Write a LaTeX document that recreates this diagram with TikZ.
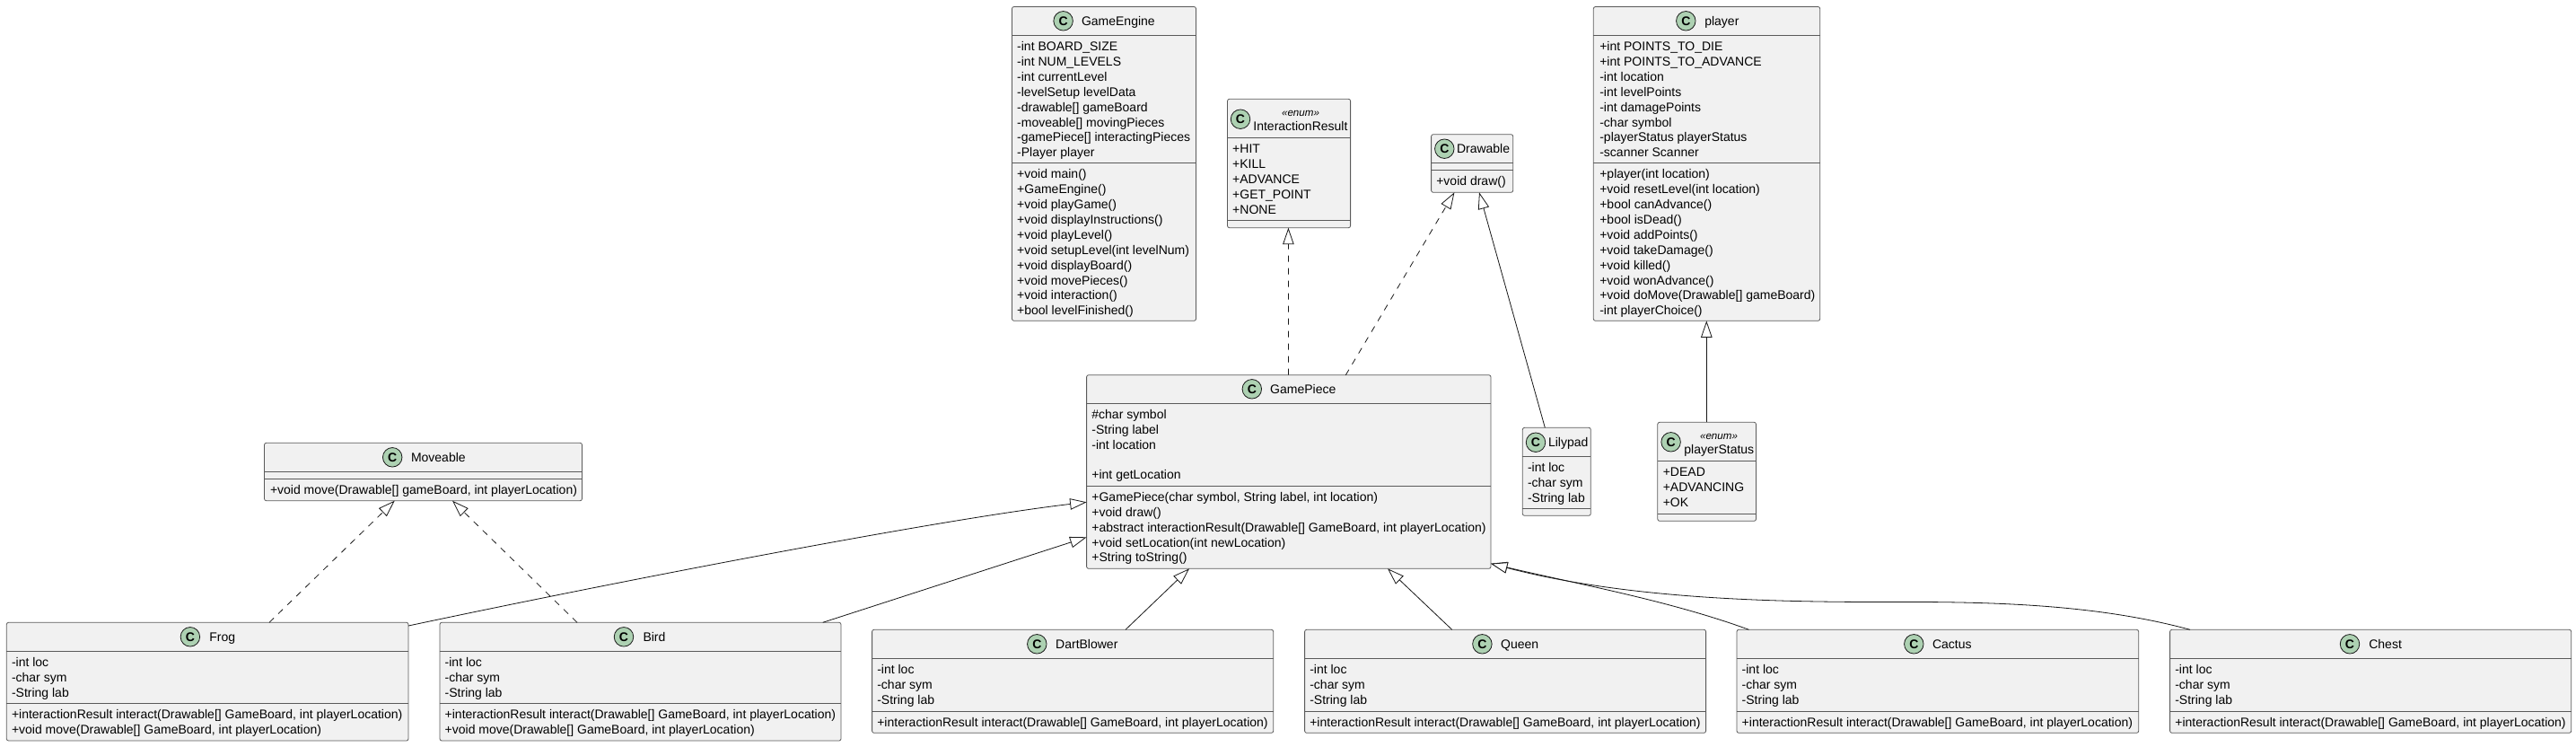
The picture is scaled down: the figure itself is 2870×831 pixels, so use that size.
\documentclass[tikz,border=0pt]{standalone}
\usepackage{fontspec}
\setmainfont{Liberation Sans}
\usetikzlibrary{arrows.meta}
\definecolor{boxfill}{HTML}{F1F1F1}
\definecolor{boxline}{HTML}{5A5A5A}
\definecolor{spotfill}{HTML}{ADD1B2}
\definecolor{inkline}{HTML}{181818}
\tikzset{
  x=1pt,y=-1pt,
  umlshape/.style={draw=boxline,fill=boxfill,line width=0.8pt,rounded corners=2.2pt,inner sep=0pt,outer sep=0pt,anchor=north west},
  sepline/.style={draw=boxline,line width=0.8pt},
  rowtext/.style={inner sep=0pt,outer sep=0pt,anchor=base west,text=black,font=\fontsize{14}{17}\selectfont},
  titletext/.style={inner sep=0pt,outer sep=0pt,anchor=base west,text=black,font=\fontsize{14}{17}\selectfont},
  stereotext/.style={inner sep=0pt,outer sep=0pt,anchor=base,text=black,font=\fontsize{11.6}{14}\itshape\selectfont},
  spotmark/.style={circle,draw=inkline,fill=spotfill,line width=0.8pt,minimum size=21.5pt,inner sep=0pt,outer sep=0pt,font=\fontsize{14}{14}\bfseries\selectfont},
  realize/.style={draw=inkline,line width=0.8pt,dash pattern=on 7pt off 7pt,-{Triangle[length=18.5pt,width=12.5pt,fill=white,line width=0.8pt]}},
  inherit/.style={draw=inkline,line width=0.8pt,-{Triangle[length=18.5pt,width=12.5pt,fill=white,line width=0.8pt]}},
}
\newcommand\umlbox[7]{%
  \node[umlshape,minimum width={(#4-#2)*1pt},minimum height={(#5-#3)*1pt}] (#1) at (#2,#3) {};
  \draw[sepline] (#2,#6) -- (#4,#6);
  \draw[sepline] (#2,#7) -- (#4,#7);
}
\newcommand\umlhead[5]{%
  \node[spotmark] (#1-spot) at (#2,#3) {C};
  \node[titletext] (#1-title) at (#4,#3+5) {#5};
}
\newcommand\umlrows[4]{%
  \foreach \rowcontent [count=\rowi] in {#4}{%
    \node[rowtext] (#1-\rowi) at (#2,{#3+17+(\rowi-1)*16.9}) {\rowcontent};
  }%
}
\begin{document}
\begin{tikzpicture}
\useasboundingbox (0,0) rectangle (2870,831);
\fill[white] (0,0) rectangle (2870,831);

% GameEngine
\umlbox{engine}{1127.5}{7.5}{1332.5}{357.3}{39.5}{181.7}
\umlhead{engine}{1184.6}{23.3}{1205}{GameEngine}
\umlrows{engine-a}{1133.2}{39.5}{-int BOARD\_SIZE,-int NUM\_LEVELS,-int currentLevel,-levelSetup levelData,-drawable[] gameBoard,-moveable[] movingPieces,-gamePiece[] interactingPieces,-Player player}
\umlrows{engine-m}{1133.2}{181.7}{+void main(),+GameEngine(),+void playGame(),+void displayInstructions(),+void playLevel(),+void setupLevel(int levelNum),+void displayBoard(),+void movePieces(),+void interaction(),+bool levelFinished()}

% InteractionResult
\umlbox{result}{1367.5}{110.3}{1504.6}{253.7}{153.7}{245.3}
\node[spotmark] (result-spot) at (1382,132.7) {C};
\node[stereotext] (result-stereo) at (1449,129) {«enum»};
\node[titletext] (result-title) at (1396.4,145.3) {InteractionResult};
\umlrows{result-a}{1373.2}{153.7}{+HIT,+KILL,+ADVANCE,+GET\_POINT,+NONE}

% Drawable
\umlbox{drawable}{1594.6}{149.7}{1685.7}{214.3}{181.7}{189.3}
\umlhead{drawable}{1609.3}{165.7}{1623}{Drawable}
\umlrows{drawable-m}{1600.3}{189.3}{+void draw()}

% player
\umlbox{player}{1775.3}{7.5}{2027.7}{357.3}{39.5}{181.7}
\umlhead{player}{1878.3}{23.3}{1899.3}{player}
\umlrows{player-a}{1782.3}{39.5}{+int POINTS\_TO\_DIE,+int POINTS\_TO\_ADVANCE,-int location,-int levelPoints,-int damagePoints,-char symbol,-playerStatus playerStatus,-scanner Scanner}
\umlrows{player-m}{1782.3}{181.7}{+player(int location),+void resetLevel(int location),+bool canAdvance(),+bool isDead(),+void addPoints(),+void takeDamage(),+void killed(),+void wonAdvance(),+void doMove(Drawable[] gameBoard),-int playerChoice()}

% GamePiece
\umlbox{gamepiece}{1210.6}{417.7}{1661}{633.3}{449.3}{541.3}
\umlhead{gamepiece}{1394.8}{433.3}{1415.2}{GamePiece}
\umlrows{gamepiece-a}{1216.4}{449.3}{\#char symbol,-String label,-int location}
\umlrows{gamepiece-b}{1216.4}{516.9}{+int getLocation}
\umlrows{gamepiece-m}{1216.4}{541.3}{{+GamePiece(char symbol, String label, int location)},+void draw(),{+abstract interactionResult(Drawable[] GameBoard, int playerLocation)},+void setLocation(int newLocation),+String toString()}

% Lilypad
\umlbox{lilypad}{1696.3}{476.3}{1772.3}{574.3}{508.3}{566}
\umlhead{lilypad}{1711}{492.7}{1725}{Lilypad}
\umlrows{lilypad-a}{1702}{508.3}{-int loc,-char sym,-String lab}

% playerStatus
\umlbox{status}{1846.8}{470.3}{1956.5}{580.3}{513.3}{572.3}
\node[spotmark] (status-spot) at (1861.6,492.3) {C};
\node[stereotext] (status-stereo) at (1915,489.3) {«enum»};
\node[titletext] (status-title) at (1876.4,505.7) {playerStatus};
\umlrows{status-a}{1852.8}{513.3}{+DEAD,+ADVANCING,+OK}

% Moveable
\umlbox{moveable}{294.5}{493.3}{648.5}{557.7}{525.3}{533.3}
\umlhead{moveable}{437.2}{509.3}{458}{Moveable}
\umlrows{moveable-m}{301}{533.3}{{+void move(Drawable[] gameBoard, int playerLocation)}}

% Frog
\umlbox{frog}{7.3}{693.3}{455}{825}{725.3}{783.3}
\umlhead{frog}{211.9}{709.3}{233.3}{Frog}
\umlrows{frog-a}{13}{725.3}{-int loc,-char sym,-String lab}
\umlrows{frog-m}{13}{783.3}{{+interactionResult interact(Drawable[] GameBoard, int playerLocation)},{+void move(Drawable[] GameBoard, int playerLocation)}}

% Bird
\umlbox{bird}{490}{693.3}{937}{825}{725.3}{783.3}
\umlhead{bird}{695}{709.3}{716.5}{Bird}
\umlrows{bird-a}{495.7}{725.3}{-int loc,-char sym,-String lab}
\umlrows{bird-m}{495.7}{783.3}{{+interactionResult interact(Drawable[] GameBoard, int playerLocation)},{+void move(Drawable[] GameBoard, int playerLocation)}}

% DartBlower
\umlbox{dart}{971.6}{701.3}{1418.7}{816.3}{733.3}{792.3}
\umlhead{dart}{1155.3}{717.3}{1176.2}{DartBlower}
\umlrows{dart-a}{977.3}{733.3}{-int loc,-char sym,-String lab}
\umlrows{dart-m}{977.3}{792.3}{{+interactionResult interact(Drawable[] GameBoard, int playerLocation)}}

% Queen
\umlbox{queen}{1453.6}{701.3}{1900.6}{816.3}{733.3}{792.3}
\umlhead{queen}{1651.4}{717.3}{1672.2}{Queen}
\umlrows{queen-a}{1459.3}{733.3}{-int loc,-char sym,-String lab}
\umlrows{queen-m}{1459.3}{792.3}{{+interactionResult interact(Drawable[] GameBoard, int playerLocation)}}

% Cactus
\umlbox{cactus}{1935}{701.3}{2382.7}{816.3}{733.3}{792.3}
\umlhead{cactus}{2132.3}{717.3}{2153}{Cactus}
\umlrows{cactus-a}{1940.7}{733.3}{-int loc,-char sym,-String lab}
\umlrows{cactus-m}{1940.7}{792.3}{{+interactionResult interact(Drawable[] GameBoard, int playerLocation)}}

% Chest
\umlbox{chest}{2417.6}{701.3}{2864.7}{816.3}{733.3}{792.3}
\umlhead{chest}{2618}{717.3}{2639.3}{Chest}
\umlrows{chest-a}{2423.3}{733.3}{-int loc,-char sym,-String lab}
\umlrows{chest-m}{2423.3}{792.3}{{+interactionResult interact(Drawable[] GameBoard, int playerLocation)}}

% connectors
\draw[realize] ([xshift=224.8pt]gamepiece.north west) -- ([xshift=67.9pt]result.south west);
\draw[realize] ([xshift=288.7pt]gamepiece.north west) -- ([xshift=25.8pt]drawable.south west);
\draw[inherit] ([xshift=25pt]lilypad.north west) -- ([xshift=53.4pt]drawable.south west);
\draw[inherit] ([xshift=54.5pt]status.north west) -- ([xshift=126pt]player.south west);
\draw[realize] ([xshift=292.7pt]frog.north west) -- ([xshift=145.2pt]moveable.south west);
\draw[realize] ([xshift=153pt]bird.north west) -- ([xshift=209.5pt]moveable.south west);
\draw[inherit] ([yshift=-3.7pt]frog.north east) .. controls (700,645) and (1050,578) .. ([yshift=-141.6pt]gamepiece.north west);
\draw[inherit] ([xshift=426.7pt]bird.north west) -- ([yshift=-180.6pt]gamepiece.north west);
\draw[inherit] ([xshift=282.4pt]dart.north west) -- ([xshift=114.4pt]gamepiece.south west);
\draw[inherit] ([xshift=164.1pt]queen.north west) -- ([xshift=335.4pt]gamepiece.south west);
\draw[inherit] ([xshift=13.5pt]cactus.north west) .. controls (1860,669) and (1760,651) .. ([yshift=5.6pt]gamepiece.south east);
\draw[inherit] ([xshift=22.4pt]chest.north west) .. controls (2350,677) and (2250,670.5) .. (2130,670.5) .. controls (2020,670.5) and (1830,672) .. ([yshift=5.6pt]gamepiece.south east);
\end{tikzpicture}
\end{document}
